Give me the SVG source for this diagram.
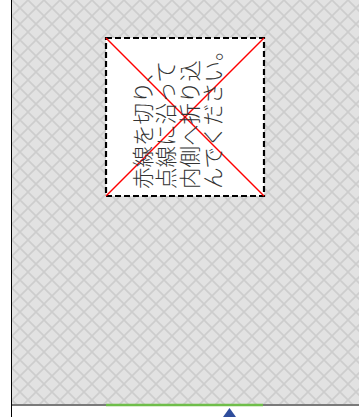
<svg xmlns="http://www.w3.org/2000/svg" width="359" height="417" viewBox="0 0 359 417">
  <defs>
    <pattern id="lattice" x="12" y="0" width="16" height="16" patternUnits="userSpaceOnUse">
      <rect width="16" height="16" fill="#e2e2e2"/>
      <path d="M0 0 L16 16 M16 0 L0 16" stroke="#cdcdcd" stroke-width="1.6" fill="none"/>
    </pattern>
    <style>
      .cut { stroke: #ff0000; stroke-width: 1.5; }
      .fold { fill: #ffffff; stroke: #000000; stroke-width: 2.2; stroke-dasharray: 6 3; }
      .label { font-family: "Noto Sans CJK JP", "Noto Sans", sans-serif; font-size: 21.5px; font-weight: 300; fill: #333333; }
    </style>
  </defs>
  <rect x="0" y="0" width="359" height="417" fill="#ffffff"/>
  <rect id="panel" x="12" y="0" width="347" height="405" fill="url(#lattice)"/>
  <line x1="11.5" y1="0" x2="11.5" y2="417" stroke="#000000" stroke-width="1"/>
  <line x1="12" y1="405" x2="359" y2="405" stroke="#7a7a7a" stroke-width="2"/>
  <line x1="106" y1="405" x2="263" y2="405" stroke="#6fbe4a" stroke-width="2.4"/>
  <polygon points="229.5,408 223,417 236,417" fill="#2f4d9c"/>
  <g id="fold-box">
    <rect class="fold" x="106" y="38" width="158" height="158"/>
    <line class="cut" x1="106" y1="38" x2="264" y2="196"/>
    <line class="cut" x1="106" y1="196" x2="264" y2="38"/>
    <text class="label" transform="translate(150.5,189) rotate(-90)">赤線を切り、</text>
    <text class="label" transform="translate(174,189) rotate(-90)">点線に沿って</text>
    <text class="label" transform="translate(197.5,189) rotate(-90)">内側へ折り込</text>
    <text class="label" transform="translate(221,189) rotate(-90)">んでください。</text>
  </g>
</svg>
